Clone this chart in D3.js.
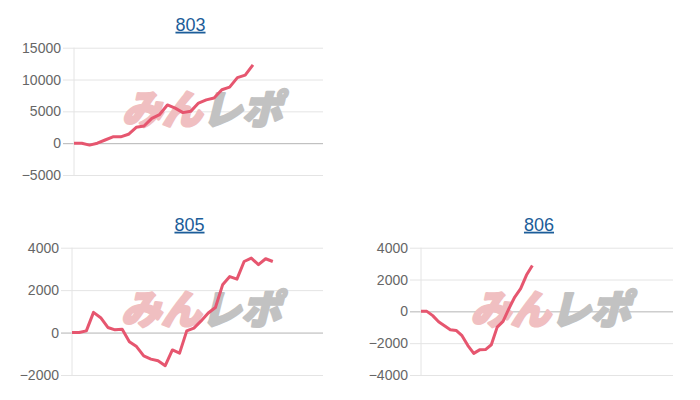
<!DOCTYPE html>
<html>
<head>
<meta charset="utf-8">
<script src="https://cdn.jsdelivr.net/npm/d3@7"></script>
<style>
  body { margin: 0; background: #fff; }
  svg { display: block; }
</style>
</head>
<body>
<svg id="chart" width="700" height="400"></svg>
<script>
// machine numbers shown as chart titles
const machines = ['803', '805', '806'];

// cumulative difference per day
const diff803 = [0, 0, -300, 0, 500, 1000, 1000, 1400, 2500, 2700, 3900, 4500, 6000, 5500,
    4800, 5000, 6300, 6800, 7100, 8400, 8800, 10300, 10700, 12300];
const diff805 = [0, 0, 80, 950, 700, 240, 130, 160, -430, -660, -1100, -1250, -1330, -1560,
    -820, -970, 80, 210, 550, 920, 1180, 2250, 2640, 2520, 3350, 3510, 3200, 3480, 3350];
const diff806 = [0, 0, -270, -650, -900, -1150, -1200, -1530, -2150, -2640, -2420, -2400,
    -2100, -990, -630, 170, 900, 1430, 2280, 2880];

// number of day slots on each x axis
const daySlots = [33, 36, 44];

// y tick labels of each chart
const ticks803 = [-5000, 0, 5000, 10000, 15000];
const ticks805 = [-2000, 0, 2000, 4000];
const ticks806 = [-4000, -2000, 0, 2000, 4000];

const series = [diff803, diff805, diff806];
const tickSets = [ticks803, ticks805, ticks806];

const svg = d3.select('svg#chart');

// plot boxes
const boxes = [
    {left: 74, right: 323, top: 47.7, bottom: 175},
    {left: 72, right: 323, top: 247.7, bottom: 375},
    {left: 421, right: 673, top: 247.7, bottom: 375}
];

const lineColor = '#e6566f';

function drawPanel(i) {
    const b = boxes[i];
    const vals = series[i];
    const tk = tickSets[i];
    const plotW = b.right - b.left;

    const x = d3.scaleLinear().domain([0, daySlots[i] - 1]).range([b.left, b.right]);
    const y = d3.scaleLinear().domain([d3.min(tk), d3.max(tk)]).range([b.bottom, b.top]);

    const g = svg.append('g');

    // title
    g.append('text')
        .attr('x', (b.left + b.right) / 2 - 8)
        .attr('y', b.top - 17)
        .attr('text-anchor', 'middle')
        .attr('font-family', 'Liberation Sans, Arial, sans-serif')
        .attr('font-size', 18)
        .attr('fill', '#1c5d99')
        .attr('text-decoration', 'underline')
        .text(machines[i]);

    // y axis + grid
    const axis = d3.axisLeft(y).tickValues(tk).tickFormat(d3.format('d'))
        .tickSize(-(plotW + 11)).tickPadding(2);
    const ag = g.append('g')
        .attr('transform', `translate(${b.left - 11},0)`)
        .call(axis);
    ag.select('.domain').remove();
    ag.selectAll('.tick line')
        .attr('stroke', d => d === 0 ? '#b4b4b4' : '#e4e4e4')
        .attr('stroke-width', 1);
    ag.selectAll('.tick text')
        .attr('font-family', 'Liberation Sans, Arial, sans-serif')
        .attr('font-size', 14)
        .attr('fill', '#666');

    g.append('line')
        .attr('x1', b.left).attr('x2', b.left)
        .attr('y1', b.top).attr('y2', b.bottom)
        .attr('stroke', '#e4e4e4');

    // watermark
    const cx = (b.left + b.right) / 2 + 8;
    const cy = (b.top + b.bottom) / 2 - 5;
    const wm = g.append('text')
        .attr('transform', `translate(${cx},${cy}) skewX(-14)`)
        .attr('text-anchor', 'middle')
        .attr('dominant-baseline', 'central')
        .attr('font-family', 'Noto Sans CJK JP, sans-serif')
        .attr('font-weight', 900)
        .attr('font-size', 40)
        .attr('stroke-width', 2.5)
        .attr('stroke-linejoin', 'round');
    wm.append('tspan').attr('fill', '#f0bfc1').attr('stroke', '#f0bfc1').text('みん');
    wm.append('tspan').attr('fill', '#c2c2c2').attr('stroke', '#c2c2c2').text('レポ');

    // line
    const line = d3.line().x((d, k) => x(k)).y(d => y(d));
    g.append('path')
        .datum(vals)
        .attr('fill', 'none')
        .attr('stroke', lineColor)
        .attr('stroke-width', 3)
        .attr('stroke-linejoin', 'round')
        .attr('d', line);
}

for (let i = 0; i < machines.length; i++) {
    drawPanel(i);
}
</script>
</body>
</html>
